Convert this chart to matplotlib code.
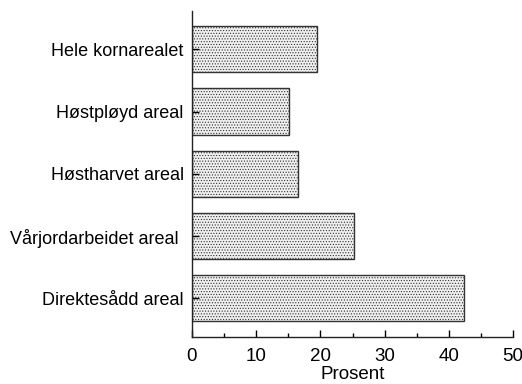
import matplotlib
matplotlib.use("Agg")
import matplotlib.pyplot as plt
from matplotlib.ticker import MultipleLocator

categories = [
    "Hele kornarealet",
    "Høstpløyd areal",
    "Høstharvet areal",
    "Vårjordarbeidet areal ",
    "Direktesådd areal",
]
values = [19.4, 15.1, 16.5, 25.3, 42.4]
x_ticks = [0, 10, 20, 30, 40, 50]

plt.rcParams["font.family"] = ["Liberation Sans", "DejaVu Sans"]
plt.rcParams["hatch.color"] = "#b4b4b4"
plt.rcParams["hatch.linewidth"] = 0.5

fig = plt.figure(figsize=(5.22, 3.84), dpi=100)
ax = fig.add_axes([0.3678, 0.1224, 0.6150, 0.850])

ypos = list(range(len(categories)))[::-1]
ax.barh(ypos, values, height=0.74, color="#efefef", edgecolor="#333333",
        linewidth=1.0, hatch="......")

ax.set_xlim(0, 50)
ax.set_ylim(-0.62, 4.62)
ax.set_xticks(x_ticks)
ax.xaxis.set_minor_locator(MultipleLocator(5))
ax.set_yticks(ypos)
ax.set_yticklabels(categories)

ax.tick_params(axis="x", which="major", direction="in", length=5, width=1,
               labelsize=13.5, pad=8)
ax.tick_params(axis="x", which="minor", direction="in", length=3, width=1)
ax.tick_params(axis="y", direction="in", length=5, width=1, labelsize=13, pad=6)
ax.set_xlabel("Prosent", fontsize=13.5, labelpad=1)

for side in ("top", "right"):
    ax.spines[side].set_visible(False)
for side in ("left", "bottom"):
    ax.spines[side].set_linewidth(1.0)
    ax.spines[side].set_color("#222222")

fig.savefig("out.png", dpi=100, facecolor="white")
